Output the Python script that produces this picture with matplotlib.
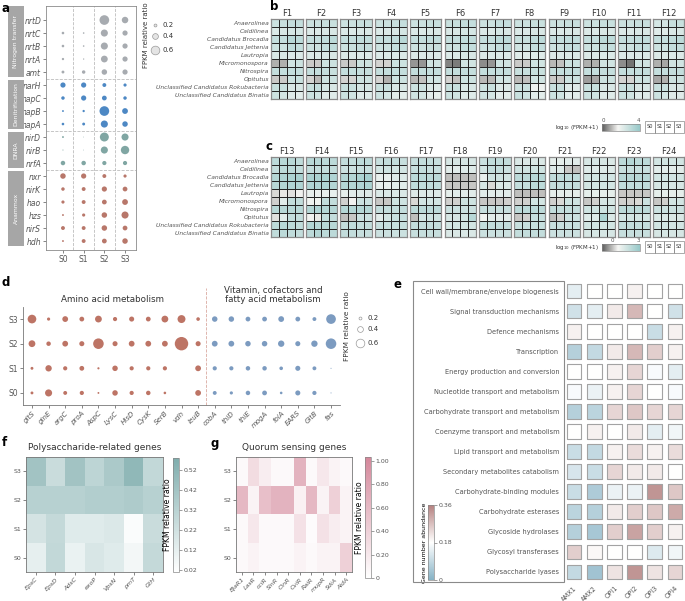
import numpy as np
import matplotlib
matplotlib.use('Agg')
import matplotlib.pyplot as plt
from matplotlib.colors import LinearSegmentedColormap
from matplotlib.patches import Rectangle

plt.rcParams['font.family'] = 'DejaVu Sans'
plt.rcParams['axes.linewidth'] = 0.6
plt.rcParams['text.color'] = '#333333'
plt.rcParams['xtick.color'] = '#555555'
plt.rcParams['ytick.color'] = '#555555'

W, H = 685, 601

# ---------------- panel a : nitrogen genes
a_genes = ['nrtD', 'nrtC', 'nrtB', 'nrtA', 'amt',
           'narH', 'napC', 'napB', 'napA',
           'nirD', 'nirB', 'nrfA',
           'nxr', 'nirK', 'hao', 'hzs', 'nirS', 'hdh']
a_samples = ['S0', 'S1', 'S2', 'S3']
a_ratio = [
    [0.00, 0.00, 0.67, 0.45],
    [0.18, 0.11, 0.49, 0.36],
    [0.18, 0.11, 0.49, 0.36],
    [0.16, 0.09, 0.47, 0.36],
    [0.20, 0.24, 0.38, 0.36],
    [0.36, 0.36, 0.27, 0.22],
    [0.24, 0.36, 0.33, 0.24],
    [0.13, 0.16, 0.67, 0.40],
    [0.18, 0.20, 0.49, 0.38],
    [0.13, 0.05, 0.62, 0.49],
    [0.07, 0.05, 0.49, 0.58],
    [0.31, 0.31, 0.29, 0.29],
    [0.38, 0.36, 0.27, 0.22],
    [0.24, 0.27, 0.36, 0.33],
    [0.22, 0.27, 0.33, 0.40],
    [0.13, 0.22, 0.38, 0.49],
    [0.27, 0.27, 0.38, 0.33],
    [0.13, 0.27, 0.33, 0.38],
]
a_group_names = ['Nitrogen transfer', 'Denitrification', 'DNRA', 'Anammox']
a_group_sizes = [5, 4, 3, 6]
a_group_colors = ['#a7abb0', '#4d88c4', '#80a6a3', '#b8776a']

# ---------------- panels b, c : taxa heatmaps, log10(FPKM+1)
bc_taxa = ['Anaerolinea', 'Caldilinea', 'Candidatus Brocadia', 'Candidatus Jettenia',
           'Lautropia', 'Micromonospora', 'Nitrospira', 'Opitutus',
           'Unclassified Candidatus Rokubacteria', 'Unclassified Candidatus Binatia']
b_names = ['F%d' % i for i in range(1, 13)]
b_blocks = [
    [[2.8, 2.9, 3.0, 3.0], [2.4, 2.5, 2.6, 2.6], [3.0, 3.0, 3.3, 3.2], [2.8, 2.8, 3.1, 3.0], [2.5, 2.5, 2.4, 2.4],
     [0.9, 0.9, 2.7, 2.8], [3.0, 3.0, 3.0, 3.0], [1.2, 1.2, 2.8, 2.9], [2.9, 2.9, 2.5, 2.5], [2.8, 2.6, 2.3, 2.2]],
    [[2.8, 2.8, 2.9, 2.9], [2.4, 2.4, 2.5, 2.5], [3.0, 3.0, 3.1, 3.2], [2.8, 2.8, 3.0, 3.1], [2.4, 2.4, 2.5, 2.5],
     [1.2, 1.2, 2.8, 2.8], [3.0, 3.0, 3.0, 2.9], [1.3, 1.0, 2.8, 2.8], [2.9, 3.0, 2.6, 2.5], [2.8, 2.7, 2.3, 2.3]],
    [[2.8, 2.8, 2.9, 2.9], [2.4, 2.4, 2.5, 2.5], [3.0, 3.0, 3.1, 3.1], [2.8, 2.9, 3.0, 3.0], [2.4, 2.4, 2.4, 2.4],
     [1.2, 1.2, 2.8, 2.8], [3.0, 3.0, 3.0, 3.0], [1.3, 1.3, 2.8, 2.8], [2.9, 2.9, 2.6, 2.6], [2.8, 2.7, 2.3, 2.3]],
    [[2.8, 2.8, 2.9, 3.0], [2.4, 2.4, 2.5, 2.6], [3.0, 3.0, 3.1, 3.3], [2.8, 2.8, 3.0, 3.0], [2.4, 2.4, 2.4, 2.4],
     [1.3, 1.3, 2.8, 2.8], [3.0, 3.0, 3.0, 3.0], [1.3, 0.9, 2.8, 2.8], [2.9, 2.9, 2.5, 2.5], [2.8, 2.6, 2.2, 2.2]],
    [[2.8, 2.8, 2.9, 2.9], [2.4, 2.4, 2.5, 2.5], [3.0, 3.0, 3.1, 3.1], [2.8, 2.8, 2.9, 2.9], [2.4, 2.4, 2.4, 2.4],
     [0.6, 0.6, 2.7, 2.7], [3.0, 3.0, 3.0, 3.0], [1.0, 1.1, 2.7, 2.7], [2.8, 2.8, 2.4, 2.3], [2.7, 2.6, 2.2, 2.1]],
    [[2.9, 2.9, 3.0, 3.0], [2.5, 2.5, 2.6, 2.6], [3.0, 3.0, 3.1, 3.1], [2.8, 2.8, 3.0, 3.0], [2.4, 2.4, 2.5, 2.5],
     [0.4, 0.3, 2.7, 2.7], [3.0, 3.0, 3.0, 3.0], [1.3, 1.1, 2.8, 2.8], [2.9, 2.9, 2.5, 2.5], [2.8, 2.7, 2.3, 2.3]],
    [[2.8, 2.8, 3.0, 3.0], [2.4, 2.4, 2.6, 2.5], [3.0, 3.0, 3.2, 3.2], [2.8, 2.8, 3.0, 3.1], [2.4, 2.4, 2.4, 2.4],
     [0.5, 0.6, 2.7, 2.7], [3.0, 3.0, 3.0, 3.0], [1.0, 1.0, 2.7, 2.7], [2.8, 2.9, 2.4, 2.4], [2.7, 2.6, 2.2, 2.2]],
    [[2.8, 2.8, 2.9, 2.9], [2.4, 2.4, 2.5, 2.5], [2.9, 2.9, 3.1, 3.2], [2.7, 2.7, 3.0, 3.0], [2.3, 2.3, 2.3, 2.3],
     [1.2, 1.2, 2.7, 2.7], [2.9, 2.9, 2.9, 2.9], [1.0, 1.1, 2.7, 2.7], [2.8, 2.8, 1.9, 1.9], [2.9, 2.7, 2.2, 2.2]],
    [[2.8, 2.8, 2.9, 2.9], [2.4, 2.4, 2.5, 2.5], [3.0, 3.0, 3.1, 3.1], [2.8, 2.8, 3.0, 3.0], [2.4, 2.4, 2.4, 2.4],
     [1.0, 1.1, 2.8, 2.8], [3.0, 3.0, 3.0, 3.0], [1.2, 1.2, 2.8, 2.8], [2.9, 2.9, 2.3, 2.3], [2.8, 2.7, 2.2, 2.2]],
    [[2.8, 2.8, 2.9, 2.9], [2.4, 2.4, 2.5, 2.5], [3.0, 3.0, 3.2, 3.2], [2.8, 2.8, 3.0, 3.0], [2.4, 2.4, 2.4, 2.4],
     [0.9, 0.9, 2.7, 2.7], [3.0, 3.0, 3.0, 3.0], [0.7, 0.8, 2.8, 2.8], [2.9, 2.9, 2.5, 2.5], [2.8, 2.7, 2.3, 2.3]],
    [[2.8, 2.8, 2.9, 2.9], [2.4, 2.4, 2.5, 2.5], [3.0, 3.0, 3.1, 3.1], [2.8, 2.8, 3.0, 3.0], [2.4, 2.4, 2.4, 2.4],
     [0.5, 0.2, 2.7, 2.7], [3.0, 3.0, 3.0, 3.0], [1.3, 1.3, 2.8, 2.8], [2.9, 2.9, 2.5, 2.5], [2.8, 2.7, 2.3, 2.3]],
    [[2.6, 2.6, 2.9, 2.9], [2.3, 2.3, 2.5, 2.5], [3.0, 3.0, 3.1, 3.2], [2.8, 2.8, 3.0, 3.0], [2.4, 2.4, 2.4, 2.4],
     [0.9, 0.8, 2.7, 2.7], [3.0, 3.0, 3.0, 3.0], [0.8, 0.9, 2.8, 2.8], [2.9, 2.9, 2.5, 2.5], [2.8, 2.6, 2.3, 2.3]],
]
c_names = ['F%d' % i for i in range(13, 25)]
c_blocks = [
    [[2.2, 2.3, 2.3, 2.1], [2.0, 2.2, 2.2, 2.0], [2.4, 2.5, 2.6, 2.7], [2.3, 2.4, 2.5, 2.5], [0.3, 0.5, 0.4, 0.6],
     [0.2, 1.2, 2.0, 2.0], [2.3, 2.3, 2.3, 2.3], [0.4, 1.2, 2.0, 2.0], [2.2, 2.3, 2.2, 2.1], [2.1, 2.2, 2.1, 2.0]],
    [[2.3, 2.3, 2.2, 2.2], [2.0, 2.0, 2.0, 2.0], [2.6, 2.6, 2.6, 2.5], [2.5, 2.5, 2.5, 2.4], [1.0, 0.9, 1.0, 1.0],
     [0.8, 0.8, 2.0, 2.0], [2.4, 2.5, 2.4, 2.4], [0.6, 0.5, 2.0, 2.0], [2.4, 2.3, 2.3, 2.3], [2.2, 2.4, 2.2, 2.2]],
    [[2.0, 2.0, 2.2, 2.2], [1.8, 1.8, 1.9, 1.9], [2.4, 2.4, 2.6, 2.8], [2.4, 2.4, 2.5, 2.6], [1.1, 1.2, 1.3, 1.3],
     [0.2, 0.6, 1.8, 1.8], [2.4, 2.4, 2.4, 2.4], [0.0, 0.1, 1.8, 1.8], [2.0, 2.1, 2.0, 2.0], [2.0, 2.0, 1.9, 1.9]],
    [[1.9, 2.0, 2.0, 1.9], [1.6, 1.7, 1.6, 1.6], [1.0, 1.0, 1.3, 1.3], [1.0, 1.0, 1.2, 1.2], [1.4, 1.4, 1.4, 1.4],
     [0.1, 0.1, 1.7, 1.7], [2.0, 2.0, 2.0, 2.0], [1.2, 1.6, 1.9, 1.9], [1.9, 1.9, 1.9, 1.9], [1.8, 1.8, 1.8, 1.8]],
    [[1.9, 2.0, 2.0, 1.9], [1.9, 2.0, 1.9, 1.9], [2.2, 2.2, 2.2, 2.2], [2.1, 2.1, 2.1, 2.1], [1.3, 1.3, 1.3, 1.3],
     [0.3, 1.6, 1.6, 1.6], [2.2, 2.2, 2.2, 2.2], [0.0, 1.6, 1.7, 1.7], [2.0, 2.0, 2.0, 2.0], [1.9, 1.9, 1.9, 1.9]],
    [[1.5, 1.5, 1.5, 1.5], [1.2, 1.2, 1.3, 1.3], [0.0, 0.0, 0.0, 0.0], [0.1, 0.1, 0.1, 0.1], [1.1, 1.2, 1.2, 1.2],
     [0.2, 0.2, 1.7, 1.7], [1.8, 1.8, 1.8, 1.8], [1.5, 1.5, 1.6, 2.3], [1.6, 1.6, 1.6, 1.6], [1.4, 1.4, 1.4, 1.4]],
    [[1.8, 2.1, 2.1, 2.0], [1.6, 2.0, 2.0, 1.8], [1.0, 1.7, 1.7, 1.6], [1.5, 0.3, 1.4, 1.4], [1.2, 1.2, 1.2, 1.2],
     [0.1, 0.1, 0.1, 0.2], [1.9, 1.9, 1.9, 1.9], [0.8, 1.2, 1.2, 1.2], [2.0, 2.0, 2.0, 2.0], [1.8, 1.8, 1.8, 1.8]],
    [[1.4, 1.4, 1.4, 1.4], [1.7, 1.7, 1.7, 1.7], [2.2, 2.2, 2.3, 2.3], [2.0, 2.0, 2.2, 2.2], [0.0, 0.0, 0.0, 0.0],
     [0.2, 0.2, 1.6, 1.6], [2.2, 2.2, 2.2, 2.2], [0.1, 0.2, 1.9, 1.9], [1.9, 1.9, 1.9, 1.9], [2.0, 2.0, 2.0, 2.0]],
    [[1.1, 1.1, 1.2, 1.2], [1.3, 1.3, 0.1, 0.0], [2.1, 2.1, 2.1, 2.1], [2.0, 2.0, 2.0, 2.0], [1.1, 1.1, 1.1, 1.1],
     [0.2, 0.3, 1.7, 1.7], [2.0, 2.0, 2.0, 2.0], [0.0, 0.2, 1.8, 1.8], [1.9, 1.9, 1.9, 1.9], [1.8, 1.8, 1.8, 1.8]],
    [[1.5, 1.5, 1.5, 1.4], [1.3, 1.3, 1.3, 1.3], [1.6, 1.6, 1.6, 1.6], [1.6, 1.6, 1.6, 1.6], [1.1, 1.1, 1.1, 1.1],
     [0.1, 0.2, 1.5, 1.5], [1.7, 1.7, 1.7, 1.7], [1.3, 1.3, 2.6, 1.4], [1.6, 1.6, 1.6, 1.6], [1.5, 1.5, 1.5, 1.5]],
    [[2.2, 2.4, 2.2, 2.2], [1.9, 1.9, 1.9, 1.9], [2.3, 2.3, 2.3, 2.3], [2.1, 2.1, 2.1, 2.1], [0.1, 0.1, 0.1, 0.1],
     [0.2, 0.2, 0.3, 1.8], [2.2, 2.2, 2.2, 2.2], [1.6, 1.6, 1.6, 1.6], [2.0, 2.0, 2.0, 2.0], [1.9, 1.9, 1.9, 1.9]],
    [[1.6, 1.6, 1.6, 1.6], [1.2, 1.2, 1.2, 1.2], [1.6, 1.6, 1.6, 1.6], [1.5, 1.5, 1.5, 1.5], [1.1, 1.1, 1.1, 1.1],
     [0.1, 0.2, 1.6, 1.6], [1.8, 1.8, 1.8, 1.8], [1.4, 1.4, 1.4, 1.4], [1.6, 1.6, 1.6, 1.6], [1.5, 1.5, 1.5, 1.5]],
]

# ---------------- panel d : metabolism genes
d_genes = ['gltS', 'glnE', 'argC', 'proA', 'AspC', 'LysC', 'HisD', 'CysK', 'SerB', 'vdh', 'leuB',
           'cobA', 'thiD', 'thiE', 'mogA', 'folA', 'EARS', 'GltB', 'fas']
d_samples = ['S0', 'S1', 'S2', 'S3']
d_S0 = [0.20, 0.49, 0.27, 0.29, 0.13, 0.38, 0.29, 0.31, 0.18, 0.00, 0.40,
        0.27, 0.22, 0.31, 0.33, 0.18, 0.35, 0.29, 0.07]
d_S1 = [0.20, 0.44, 0.29, 0.33, 0.15, 0.38, 0.29, 0.29, 0.29, 0.00, 0.40,
        0.29, 0.29, 0.31, 0.31, 0.25, 0.35, 0.27, 0.07]
d_S2 = [0.47, 0.31, 0.40, 0.35, 0.73, 0.35, 0.40, 0.40, 0.40, 0.93, 0.35,
        0.40, 0.40, 0.38, 0.38, 0.44, 0.35, 0.44, 0.73]
d_S3 = [0.60, 0.22, 0.40, 0.33, 0.47, 0.29, 0.35, 0.33, 0.47, 0.55, 0.25,
        0.38, 0.38, 0.33, 0.33, 0.40, 0.33, 0.27, 0.67]
d_n_amino = 11

# ---------------- panel e : functional categories
e_functions = ['Cell wall/membrane/envelope biogenesis', 'Signal transduction mechanisms',
               'Defence mechanisms', 'Transcription', 'Energy production and conversion',
               'Nucleotide transport and metabolism', 'Carbohydrate transport and metabolism',
               'Coenzyme transport and metabolism', 'Lipid transport and metabolism',
               'Secondary metabolites catabolism', 'Carbohydrate-binding modules',
               'Carbohydrate esterases', 'Glycoside hydrolases', 'Glycosyl transferases',
               'Polysaccharide lyases']
e_bins = ['AMX1', 'AMX2', 'OPI1', 'OPI2', 'OPI3', 'OPI4']
e_abund = [
    [0.14, 0.18, 0.18, 0.20, 0.18, 0.18],
    [0.11, 0.14, 0.21, 0.28, 0.18, 0.11],
    [0.20, 0.18, 0.18, 0.18, 0.10, 0.20],
    [0.07, 0.09, 0.21, 0.28, 0.25, 0.20],
    [0.18, 0.18, 0.20, 0.24, 0.17, 0.14],
    [0.17, 0.15, 0.20, 0.24, 0.18, 0.17],
    [0.07, 0.08, 0.24, 0.26, 0.24, 0.24],
    [0.18, 0.20, 0.18, 0.21, 0.14, 0.16],
    [0.10, 0.09, 0.20, 0.23, 0.20, 0.23],
    [0.12, 0.10, 0.24, 0.21, 0.21, 0.18],
    [0.10, 0.06, 0.15, 0.15, 0.33, 0.26],
    [0.08, 0.07, 0.21, 0.25, 0.26, 0.30],
    [0.07, 0.05, 0.25, 0.31, 0.25, 0.20],
    [0.25, 0.19, 0.18, 0.18, 0.13, 0.16],
    [0.09, 0.04, 0.22, 0.33, 0.22, 0.24],
]

# ---------------- panel f : polysaccharide genes (rows S3..S0)
f_genes = ['EpsC', 'EpsD', 'AdsC', 'exoP', 'VpsN', 'pmT', 'GtH']
f_samples = ['S3', 'S2', 'S1', 'S0']
f_ratio = [
    [0.42, 0.25, 0.42, 0.30, 0.38, 0.50, 0.28],
    [0.33, 0.33, 0.33, 0.35, 0.35, 0.37, 0.33],
    [0.20, 0.27, 0.15, 0.15, 0.17, 0.03, 0.25],
    [0.12, 0.28, 0.10, 0.18, 0.15, 0.06, 0.27],
]

# ---------------- panel g : quorum sensing genes (rows S3..S0)
g_genes = ['BjaR1', 'LasR', 'cciR', 'SinR', 'CinR', 'CviR', 'RaiR', 'mupR', 'SdiA', 'AidA']
g_samples = ['S3', 'S2', 'S1', 'S0']
g_ratio = [
    [0.05, 0.30, 0.15, 0.05, 0.05, 0.65, 0.05, 0.20, 0.10, 0.05],
    [0.60, 0.10, 0.55, 0.65, 0.65, 0.12, 0.60, 0.10, 0.40, 0.10],
    [0.05, 0.20, 0.05, 0.05, 0.05, 0.25, 0.03, 0.25, 0.15, 0.10],
    [0.05, 0.10, 0.05, 0.05, 0.05, 0.10, 0.05, 0.10, 0.10, 0.40],
]


fig = plt.figure(figsize=(W / 100, H / 100), dpi=100)


def px_axes(x0, y0, x1, y1):
    return fig.add_axes([x0 / W, 1 - y1 / H, (x1 - x0) / W, (y1 - y0) / H])


def dot_size(v):
    return (np.asarray(v) * 10.4) ** 2


def grey_spines(ax, color='#8a8a8a', lw=0.6):
    for sp in ax.spines.values():
        sp.set_color(color)
        sp.set_linewidth(lw)


# ---- a
ax_a = px_axes(46, 6, 136, 250)
row_color = []
for name, n, col in zip(a_group_names, a_group_sizes, a_group_colors):
    row_color += [col] * n
for i, gene in enumerate(a_genes):
    ax_a.scatter(range(4), [i] * 4, s=dot_size(a_ratio[i]), color=row_color[i], lw=0, zorder=3)
for x in [0.5, 1.5, 2.5]:
    ax_a.axvline(x, color='#bdbdbd', ls='--', lw=0.6, zorder=1)
for y in np.cumsum(a_group_sizes)[:-1] - 0.5:
    ax_a.axhline(y, color='#bdbdbd', ls='--', lw=0.6, zorder=1)
ax_a.set_xlim(-0.82, 3.53)
ax_a.set_ylim(17.69, -1.08)
ax_a.set_xticks(range(4))
ax_a.set_xticklabels(a_samples, fontsize=5.5)
ax_a.set_yticks(range(len(a_genes)))
ax_a.set_yticklabels(a_genes, fontsize=5.5, fontstyle='italic')
ax_a.tick_params(length=2, width=0.5, pad=1.5)
grey_spines(ax_a)

ax_strip = px_axes(8, 6, 24, 250)
ax_strip.set_xlim(0, 1)
ax_strip.set_ylim(17.69, -1.08)
ax_strip.axis('off')
start = 0
for name, n in zip(a_group_names, a_group_sizes):
    top = -1.08 if start == 0 else start - 0.5 + 0.12
    bot = start + n - 0.5 - 0.12
    ax_strip.add_patch(Rectangle((0, top), 1, bot - top, color='#a6a6a6', lw=0))
    ax_strip.text(0.5, (top + bot) / 2, name, rotation=90, color='white', fontsize=4.4,
                  ha='center', va='center')
    start += n

# ---- b / c heatmaps
cmap_bc = LinearSegmentedColormap.from_list('bc', [(0, '#5a5a5a'), (0.42, '#f6f6f3'), (1, '#96c8c8')])


def taxa_panel(blocks, names, y0, y1, vmin, vmax):
    mesh = None
    for k, (vals, nm) in enumerate(zip(blocks, names)):
        x0 = 271 + 34.7 * k
        ax = px_axes(x0, y0, x0 + 31.5, y1)
        mesh = ax.pcolormesh(np.array(vals), cmap=cmap_bc, vmin=vmin, vmax=vmax,
                             edgecolors='#262626', linewidth=0.55)
        ax.set_xlim(0, 4)
        ax.set_ylim(10, 0)
        ax.set_xticks([])
        ax.set_title(nm, fontsize=6, pad=2, color='#333333')
        grey_spines(ax, '#8a8a8a', 0.9)
        if k == 0:
            ax.set_yticks(np.arange(10) + 0.5)
            ax.set_yticklabels(bc_taxa, fontsize=4.3, fontstyle='italic')
            ax.tick_params(axis='y', length=0, pad=1.5)
        else:
            ax.set_yticks([])
    return mesh


mesh_b = taxa_panel(b_blocks, b_names, 19, 99, -0.1, 4.2)
mesh_c = taxa_panel(c_blocks, c_names, 157, 237, -1.2, 3.2)

for mesh, (cy0, cy1), ticks in [(mesh_b, (124, 131), [0, 4]), (mesh_c, (244, 251), [0, 3])]:
    cax = px_axes(602, cy0, 640, cy1)
    cb = fig.colorbar(mesh, cax=cax, orientation='horizontal', ticks=ticks)
    cb.ax.xaxis.set_ticks_position('top')
    cb.ax.tick_params(labelsize=4, length=0, pad=1)
    cb.outline.set_edgecolor('#888888')
    cb.outline.set_linewidth(0.5)

# ---- d
ax_d = px_axes(23, 307, 340, 405)
d_rows = [d_S0, d_S1, d_S2, d_S3]
d_cols = ['#bd7465'] * d_n_amino + ['#7c9bc0'] * (len(d_genes) - d_n_amino)
for j, vals in enumerate(d_rows):
    ax_d.scatter(range(len(d_genes)), [j] * len(d_genes), s=dot_size(vals), c=d_cols, lw=0, zorder=3)
ax_d.plot([d_n_amino - 0.5] * 2, [-0.49, 4.25], ls='--', color='#d9a9a0', lw=0.6, clip_on=False)
ax_d.set_xlim(-0.54, 18.54)
ax_d.set_ylim(-0.49, 3.49)
ax_d.set_xticks(range(len(d_genes)))
ax_d.set_xticklabels(d_genes, fontsize=5, fontstyle='italic', rotation=45, ha='right',
                     rotation_mode='anchor')
ax_d.set_yticks(range(4))
ax_d.set_yticklabels(d_samples, fontsize=5.5)
ax_d.tick_params(length=2, width=0.5, pad=1.5)
ax_d.spines['top'].set_visible(False)
ax_d.spines['right'].set_visible(False)
grey_spines(ax_d, '#777777')

# ---- e
cmap_e = LinearSegmentedColormap.from_list('e', ['#86b2c5', '#ffffff', '#b4807f'])
ax_e = px_axes(564, 281, 685, 582)
ee = np.array(e_abund)
xx, yy = np.meshgrid(range(len(e_bins)), range(len(e_functions)))
sc_e = ax_e.scatter(xx.ravel(), yy.ravel(), c=ee.ravel(), cmap=cmap_e, vmin=0, vmax=0.36,
                    marker='s', s=112, edgecolors='#a3a3a3', linewidths=0.8)
ax_e.set_xlim(-0.5, 5.5)
ax_e.set_ylim(14.5, -0.5)
ax_e.set_xticks(range(len(e_bins)))
ax_e.set_xticklabels(e_bins, fontsize=4.8, rotation=45, ha='right', rotation_mode='anchor')
ax_e.set_yticks(range(len(e_functions)))
ax_e.set_yticklabels(e_functions, fontsize=4.8)
ax_e.tick_params(length=0, pad=3.5)
ax_e.tick_params(axis='x', pad=2)
for sp in ax_e.spines.values():
    sp.set_visible(False)

cax_e = px_axes(428, 505, 434, 580)
cb_e = fig.colorbar(sc_e, cax=cax_e, ticks=[0, 0.18, 0.36])
cb_e.ax.set_yticklabels(['0', '0.18', '0.36'])
cb_e.ax.tick_params(labelsize=4.5, length=2, width=0.4, pad=1)
cb_e.set_label('Gene number abundance', fontsize=4.5, labelpad=1)
cb_e.ax.yaxis.set_label_position('left')
cb_e.outline.set_edgecolor('#888888')
cb_e.outline.set_linewidth(0.5)

# ---- f
cmap_f = LinearSegmentedColormap.from_list('f', ['#ffffff', '#7fadad'])
ax_f = px_axes(26, 457, 163, 572)
im_f = ax_f.imshow(np.array(f_ratio), cmap=cmap_f, vmin=0.01, vmax=0.58, aspect='auto')
ax_f.set_xticks(range(len(f_genes)))
ax_f.set_xticklabels(f_genes, fontsize=4.5, fontstyle='italic', rotation=45, ha='right',
                     rotation_mode='anchor')
ax_f.set_yticks(range(4))
ax_f.set_yticklabels(f_samples, fontsize=4.5)
ax_f.tick_params(length=2, width=0.5, pad=1.5)
ax_f.set_title('Polysaccharide-related genes', fontsize=6.5, pad=5)
grey_spines(ax_f, '#777777')

cax_f = px_axes(173, 458, 179, 572)
cb_f = fig.colorbar(im_f, cax=cax_f, ticks=[0.02, 0.12, 0.22, 0.32, 0.42, 0.52])
cb_f.ax.set_yticklabels(['0.02', '0.12', '0.22', '0.32', '0.42', '0.52'])
cb_f.ax.tick_params(labelsize=4.5, length=2, width=0.4, pad=1)
cb_f.set_label('FPKM relative ratio', fontsize=5.5, labelpad=1)
cb_f.ax.yaxis.set_label_position('left')
cb_f.outline.set_edgecolor('#888888')
cb_f.outline.set_linewidth(0.5)

# ---- g
cmap_g = LinearSegmentedColormap.from_list('g', ['#ffffff', '#d4879a'])
ax_g = px_axes(236, 457, 352, 572)
im_g = ax_g.imshow(np.array(g_ratio), cmap=cmap_g, vmin=0, vmax=1.03, aspect='auto')
ax_g.set_xticks(range(len(g_genes)))
ax_g.set_xticklabels(g_genes, fontsize=4.5, fontstyle='italic', rotation=45, ha='right',
                     rotation_mode='anchor')
ax_g.set_yticks(range(4))
ax_g.set_yticklabels(g_samples, fontsize=4.5)
ax_g.tick_params(length=2, width=0.5, pad=1.5)
ax_g.set_title('Quorum sensing genes', fontsize=6.5, pad=5)
grey_spines(ax_g, '#777777')

cax_g = px_axes(365, 457, 371, 578)
cb_g = fig.colorbar(im_g, cax=cax_g, ticks=[0, 0.2, 0.4, 0.6, 0.8, 1.0])
cb_g.ax.set_yticklabels(['0', '0.20', '0.40', '0.60', '0.80', '1.00'])
cb_g.ax.tick_params(labelsize=4.5, length=2, width=0.4, pad=1)
cb_g.set_label('FPKM relative ratio', fontsize=5.5, labelpad=1)
cb_g.ax.yaxis.set_label_position('left')
cb_g.outline.set_edgecolor('#888888')
cb_g.outline.set_linewidth(0.5)

# ---- overlay: panel letters, legends, boxes
ov = fig.add_axes([0, 0, 1, 1])
ov.set_xlim(0, W)
ov.set_ylim(H, 0)
ov.axis('off')
ov.patch.set_alpha(0)

for lab, x, y in [('a', 2, 8), ('b', 270, 7), ('c', 266, 146), ('d', 2, 283),
                  ('e', 394, 284), ('f', 2, 443), ('g', 211, 443)]:
    ov.text(x, y, lab, fontsize=8.5, fontweight='bold', ha='left', va='center', color='black')

# size legends (a and d)
for (lx, ly, fc) in [(155, [25, 36, 50], '#e4e4e4'), (360, [318, 329, 343], 'white')]:
    for v, y in zip([0.2, 0.4, 0.6], ly):
        ov.scatter(lx, y, s=dot_size(v), facecolor=fc, edgecolor='#9a9a9a', lw=0.5)
        ov.text(lx + 8, y, '%.1f' % v, fontsize=5, va='center')
ov.text(146, 35, 'FPKM relative ratio', rotation=90, fontsize=5, ha='center', va='center')
ov.text(347, 326, 'FPKM relative ratio', rotation=90, fontsize=5.3, ha='center', va='center')

# d titles
ov.text(113, 299, 'Amino acid metabolism', fontsize=6.3, ha='center', va='center')
ov.text(273, 295, 'Vitamin, cofactors and\nfatty acid metabolism', fontsize=6.3, ha='center',
        va='center', linespacing=1.05)

# b / c colour bar titles and sample keys
for cy, sy in [(127.5, 121), (247.5, 241)]:
    ov.text(599, cy, 'log$_{10}$ (FPKM+1)', fontsize=4, ha='right', va='center')
    for k, s in enumerate(a_samples):
        ov.add_patch(Rectangle((645 + 9.7 * k, sy), 9.7, 12, fill=False, ec='#888888', lw=0.5))
        ov.text(645 + 9.7 * k + 4.85, sy + 6, s, fontsize=3.6, ha='center', va='center')

# e label box
ov.add_patch(Rectangle((413, 281), 151, 301, fill=False, ec='#8a8a8a', lw=0.8))

fig.savefig('out.png', dpi=100)
